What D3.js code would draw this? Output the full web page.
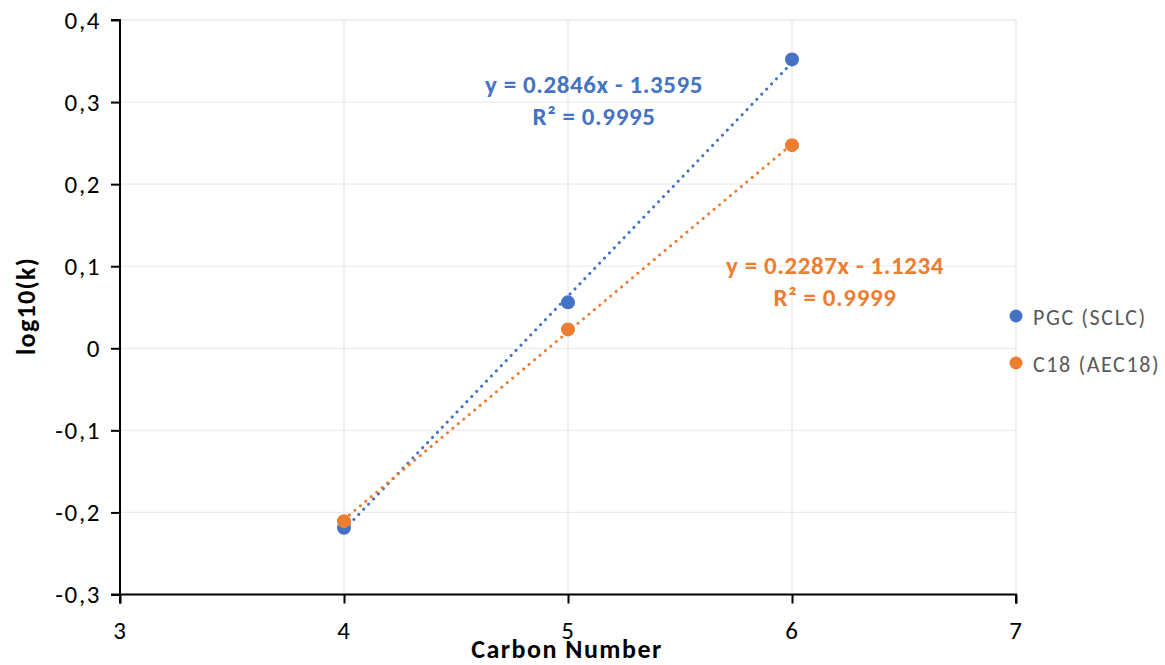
<!DOCTYPE html>
<html><head><meta charset="utf-8">
<script src="https://cdn.jsdelivr.net/npm/d3@7"></script>
<style>body{margin:0;background:#fff}svg{display:block}</style>
</head><body>
<svg id="c" width="1165" height="665"></svg>
<script>
const carbonNumbers = [4, 5, 6];
const pgcValues = [-0.2186, 0.056, 0.352];
const c18Values = [-0.2106, 0.023, 0.2475];
const seriesNames = ["PGC (SCLC)", "C18 (AEC18)"];
const seriesColors = ["#4472C4", "#ED7D31"];
const trendSlopes = [0.2846, 0.2287];
const trendIntercepts = [-1.3595, -1.1234];
const eqLabels = ["y = 0.2846x - 1.3595", "y = 0.2287x - 1.1234"];
const r2Labels = ["R² = 0.9995", "R² = 0.9999"];
const xTicks = [3, 4, 5, 6, 7];
const yTicks = [-0.3, -0.2, -0.1, 0, 0.1, 0.2, 0.3, 0.4];

const svg = d3.select("#c");
const font = "Carlito, Calibri, 'Open Sans', 'Liberation Sans', sans-serif";
const x = d3.scaleLinear().domain([3, 7]).range([120, 1016]);
const y = d3.scaleLinear().domain([-0.3, 0.4]).range([594.5, 20]);
const fmt = d => Math.abs(d) < 1e-9 ? "0" : d3.format(".1f")(d).replace(".", ",").replace("−", "-");

// gridlines
svg.append("g").selectAll("line").data(yTicks.slice(1)).join("line")
  .attr("x1", x(3)).attr("x2", x(7)).attr("y1", d => y(d)).attr("y2", d => y(d))
  .attr("stroke", "#ebebeb").attr("stroke-width", 1.3);
svg.append("g").selectAll("line").data(xTicks.slice(1)).join("line")
  .attr("x1", d => x(d)).attr("x2", d => x(d)).attr("y1", y(0.4)).attr("y2", y(-0.3))
  .attr("stroke", "#ebebeb").attr("stroke-width", 1.3);

// axes
const yAxis = svg.append("g").attr("transform", `translate(${x(3)},0)`)
  .call(d3.axisLeft(y).tickValues(yTicks).tickFormat(fmt).tickSize(9).tickPadding(10));
const xAxis = svg.append("g").attr("transform", `translate(0,${y(-0.3)})`)
  .call(d3.axisBottom(x).tickValues(xTicks).tickFormat(d3.format("d")).tickSize(9).tickPadding(18));
[yAxis, xAxis].forEach(g => {
  g.select(".domain").attr("stroke", "#000").attr("stroke-width", 2);
  g.selectAll(".tick line").attr("stroke", "#000").attr("stroke-width", 2);
  g.selectAll(".tick text").attr("fill", "#000").style("font-family", font)
    .style("font-size", "25px").style("letter-spacing", "1.6px");
});
yAxis.select(".domain").attr("d", `M-9,${y(0.4)}H0V${y(-0.3)}H-9`);
xAxis.select(".domain").attr("d", `M${x(3)},9V0H${x(7)}V9`);

// axis titles
svg.append("text").attr("x", 567).attr("y", 658).attr("text-anchor", "middle")
  .style("font-family", font).style("font-size", "26px").style("font-weight", "bold")
  .style("letter-spacing", "1.5px").text("Carbon Number");
svg.append("text").attr("transform", "translate(35,306) rotate(-90)").attr("text-anchor", "middle")
  .style("font-family", font).style("font-size", "26px").style("font-weight", "bold")
  .style("letter-spacing", "1.3px").text("log10(k)");

const series = [pgcValues, c18Values];
// trendlines
series.forEach((vals, i) => {
  const x0 = d3.min(carbonNumbers), x1 = d3.max(carbonNumbers);
  svg.append("line")
    .attr("x1", x(x0)).attr("y1", y(trendSlopes[i] * x0 + trendIntercepts[i]))
    .attr("x2", x(x1)).attr("y2", y(trendSlopes[i] * x1 + trendIntercepts[i]))
    .attr("stroke", seriesColors[i]).attr("stroke-width", 3)
    .attr("stroke-linecap", "round").attr("stroke-dasharray", "0.1 7");
});
// points
series.forEach((vals, i) => {
  svg.append("g").selectAll("circle").data(vals).join("circle")
    .attr("cx", (d, j) => x(carbonNumbers[j])).attr("cy", d => y(d))
    .attr("r", 7).attr("fill", seriesColors[i]);
});

// equation labels
const eqPos = [[594, 93], [835, 274]];
series.forEach((vals, i) => {
  const t = svg.append("text").attr("text-anchor", "middle")
    .style("font-family", font).style("font-size", "25px").style("font-weight", "bold")
    .style("letter-spacing", "0.6px").attr("fill", seriesColors[i]);
  t.append("tspan").attr("x", eqPos[i][0]).attr("y", eqPos[i][1]).text(eqLabels[i]);
  t.append("tspan").attr("x", eqPos[i][0]).attr("y", eqPos[i][1] + 31.5).text(r2Labels[i]);
});

// legend
seriesNames.forEach((n, i) => {
  const ly = 316 + i * 47;
  svg.append("circle").attr("cx", 1016).attr("cy", ly).attr("r", 6.5).attr("fill", seriesColors[i]);
  svg.append("text").attr("x", 1033).attr("y", ly + 8.5)
    .style("font-family", font).style("font-size", "22px").style("letter-spacing", "1.6px")
    .attr("fill", "#595959").text(n);
});
</script>
</body></html>
